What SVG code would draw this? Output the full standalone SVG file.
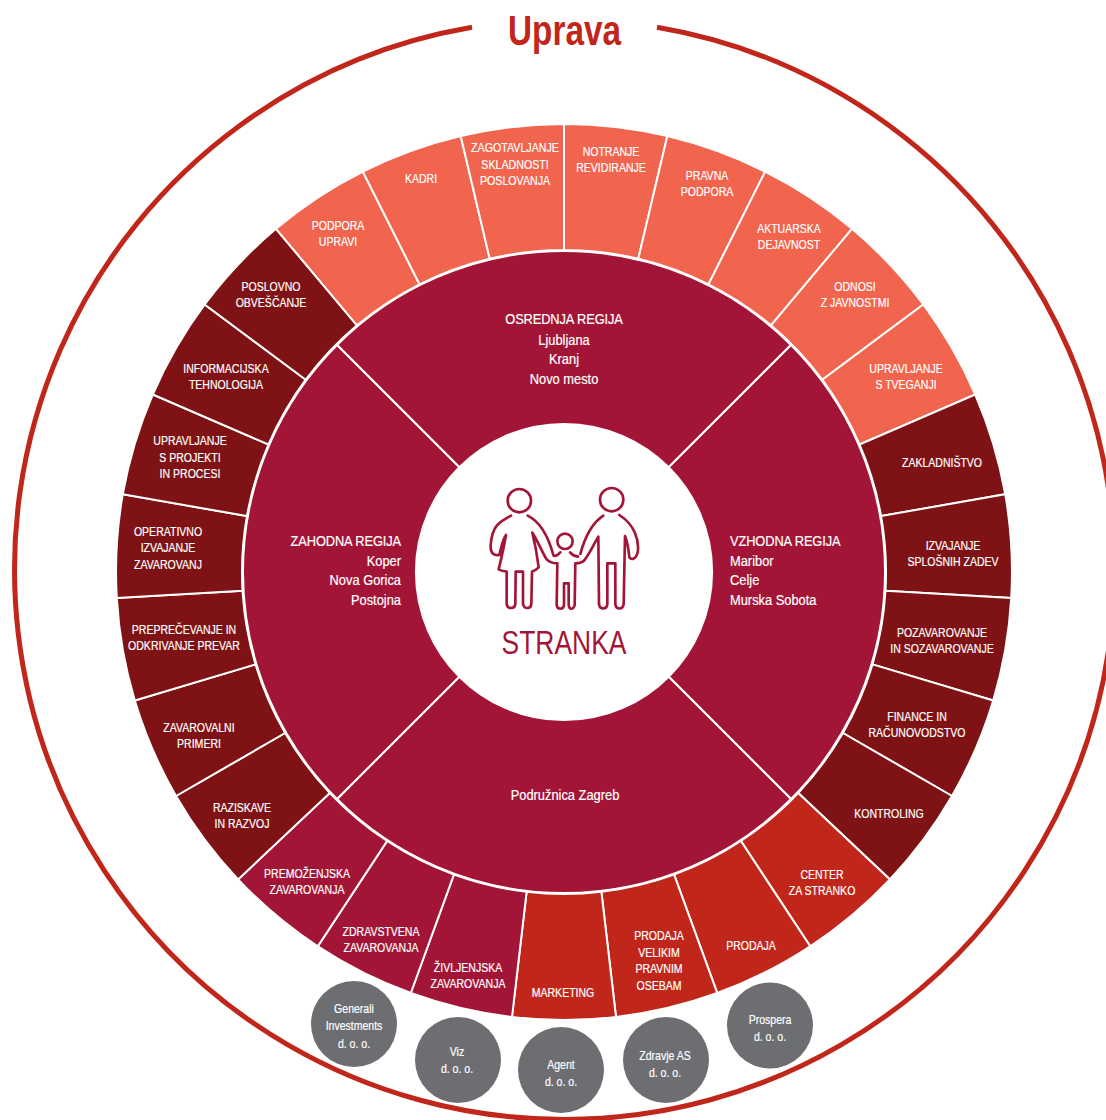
<svg xmlns="http://www.w3.org/2000/svg" width="1106" height="1120" viewBox="0 0 1106 1120">
<style>
text{font-family:"Liberation Sans",Arial,sans-serif;}
.t{font-size:13px;fill:#fff;stroke:#fff;stroke-width:.2;text-anchor:middle;}
.r{font-size:15.5px;fill:#fff;stroke:#fff;stroke-width:.2;text-anchor:middle;}
.c{letter-spacing:-.15px;}
.w{stroke:#fff;stroke-width:2;stroke-linejoin:miter;}
.or{fill:#F1644D;}.dk{fill:#7F1214;}.rd{fill:#C1261B;}.cr{fill:#A31537;}
.co{fill:#6D6E71;}
.ic{fill:none;stroke:#A31537;stroke-width:8;stroke-linecap:round;stroke-linejoin:round;}
</style>
<rect width="1106" height="1120" fill="#fff"/>
<g id="uprava">
<path d="M657 27.3A550 550 0 1 1 472 27.3" fill="none" stroke="#C1261B" stroke-width="5"/>
<text transform="translate(564.5 45) scale(.775 1)" style="font-size:43px;font-weight:bold;fill:#C1261B;text-anchor:middle">Uprava</text>
</g>
<g id="regions">
<g id="region-osrednja"><path class="w cr" d="M337 345A321 321 0 0 1 791 345L668.7 467.3A148 148 0 0 0 459.3 467.3Z"/>
<text class="r" transform="translate(564 324) scale(.83 1)"><tspan x="0" class="c">OSREDNJA REGIJA</tspan><tspan x="0" dy="21">Ljubljana</tspan><tspan x="0" dy="19.5">Kranj</tspan><tspan x="0" dy="19.5">Novo mesto</tspan></text></g>
<g id="region-vzhodna"><path class="w cr" d="M791 345A321 321 0 0 1 791 799L668.7 676.7A148 148 0 0 0 668.7 467.3Z"/>
<text class="r" style="text-anchor:start" transform="translate(730 546) scale(.83 1)"><tspan x="0" class="c">VZHODNA REGIJA</tspan><tspan x="0" dy="20">Maribor</tspan><tspan x="0" dy="19.5">Celje</tspan><tspan x="0" dy="19.5">Murska Sobota</tspan></text></g>
<g id="region-zagreb"><path class="w cr" d="M791 799A321 321 0 0 1 337 799L459.3 676.7A148 148 0 0 0 668.7 676.7Z"/>
<text class="r" transform="translate(565 800) scale(.83 1)">Podružnica Zagreb</text></g>
<g id="region-zahodna"><path class="w cr" d="M337 799A321 321 0 0 1 337 345L459.3 467.3A148 148 0 0 0 459.3 676.7Z"/>
<text class="r" style="text-anchor:end" transform="translate(401 546) scale(.83 1)"><tspan x="0" class="c">ZAHODNA REGIJA</tspan><tspan x="0" dy="20">Koper</tspan><tspan x="0" dy="19.5">Nova Gorica</tspan><tspan x="0" dy="19.5">Postojna</tspan></text></g>
</g>
<g id="stranka">
<circle cx="564" cy="572" r="148" fill="#fff"/>
<g transform="translate(400 450) scale(.33333)" class="ic">
<circle cx="358" cy="152" r="35"/><circle cx="635" cy="149" r="35"/><circle cx="495" cy="274" r="23"/>
<path d="M333 197C298 215 276 228 272 285C270 310 282 318 298 315C303 295 307 270 318 255C312 290 304 325 296 358C304 362 312 364 320 365L320 462C322 478 344 478 346 462L347 365L369 365L369 462C372 478 392 478 394 462L396 365C404 363 410 358 416 352C412 320 405 280 397 248C415 275 425 305 440 328C450 338 462 340 472 340L470 465C472 480 490 480 492 465L492 400L506 400L506 465C508 480 520 480 524 465L526 340C535 340 545 338 552 332C570 310 580 285 595 260L597 462C599 480 620 480 622 462L622 340L646 340L646 462C648 480 668 480 671 462L675 258C682 275 686 300 688 322C695 332 712 325 714 300C716 270 705 225 658 195"/>
<path d="M383 197C420 215 445 260 460 315"/>
<path d="M610 197C575 220 555 260 541 312"/>
<path d="M462 318C470 318 476 314 481 307"/>
<path d="M510 307C516 314 522 318 534 320"/>
</g>
<text transform="translate(564 654) scale(.79 1)" style="font-size:33.5px;fill:#A31537;text-anchor:middle">STRANKA</text>
</g>
<g id="segments">
<g id="seg-notranje"><path class="w or" d="M564 124A448 448 0 0 1 667.3 136.1L638.3 258.7A322 322 0 0 0 564 250Z"/><text class="t" transform="translate(611 156) scale(.81 1)"><tspan x="0">NOTRANJE</tspan><tspan x="0" dy="16.5">REVIDIRANJE</tspan></text></g>
<g id="seg-pravna"><path class="w or" d="M667.3 136.1A448 448 0 0 1 765.1 171.7L708.5 284.3A322 322 0 0 0 638.3 258.7Z"/><text class="t" transform="translate(707 180) scale(.81 1)"><tspan x="0">PRAVNA</tspan><tspan x="0" dy="16.5">PODPORA</tspan></text></g>
<g id="seg-aktuarska"><path class="w or" d="M765.1 171.7A448 448 0 0 1 852 228.8L771 325.3A322 322 0 0 0 708.5 284.3Z"/><text class="t" transform="translate(789 233) scale(.81 1)"><tspan x="0">AKTUARSKA</tspan><tspan x="0" dy="16.5">DEJAVNOST</tspan></text></g>
<g id="seg-odnosi"><path class="w or" d="M852 228.8A448 448 0 0 1 923.3 304.5L822.3 379.7A322 322 0 0 0 771 325.3Z"/><text class="t" transform="translate(855 291) scale(.81 1)"><tspan x="0">ODNOSI</tspan><tspan x="0" dy="16.5">Z JAVNOSTMI</tspan></text></g>
<g id="seg-tveganji"><path class="w or" d="M923.3 304.5A448 448 0 0 1 975.2 394.5L859.5 444.5A322 322 0 0 0 822.3 379.7Z"/><text class="t" transform="translate(906 373) scale(.81 1)"><tspan x="0">UPRAVLJANJE</tspan><tspan x="0" dy="16.5">S TVEGANJI</tspan></text></g>
<g id="seg-zakladnistvo"><path class="w dk" d="M975.2 394.5A448 448 0 0 1 1005.2 494.2L881.1 516.1A322 322 0 0 0 859.5 444.5Z"/><text class="t" transform="translate(942 467) scale(.81 1)">ZAKLADNIŠTVO</text></g>
<g id="seg-izvajanje"><path class="w dk" d="M1005.2 494.2A448 448 0 0 1 1011.2 598L885.5 590.7A322 322 0 0 0 881.1 516.1Z"/><text class="t" transform="translate(953 550) scale(.81 1)"><tspan x="0">IZVAJANJE</tspan><tspan x="0" dy="16.5">SPLOŠNIH ZADEV</tspan></text></g>
<g id="seg-pozavarovanje"><path class="w dk" d="M1011.2 598A448 448 0 0 1 993.2 700.5L872.5 664.4A322 322 0 0 0 885.5 590.7Z"/><text class="t" transform="translate(942 637) scale(.81 1)"><tspan x="0">POZAVAROVANJE</tspan><tspan x="0" dy="16.5">IN SOZAVAROVANJE</tspan></text></g>
<g id="seg-finance"><path class="w dk" d="M993.2 700.5A448 448 0 0 1 952 796L842.9 733A322 322 0 0 0 872.5 664.4Z"/><text class="t" transform="translate(917 721) scale(.81 1)"><tspan x="0">FINANCE IN</tspan><tspan x="0" dy="16.5">RAČUNOVODSTVO</tspan></text></g>
<g id="seg-kontroling"><path class="w dk" d="M952 796A448 448 0 0 1 889.9 879.4L798.2 793A322 322 0 0 0 842.9 733Z"/><text class="t" transform="translate(889 818) scale(.81 1)">KONTROLING</text></g>
<g id="seg-center"><path class="w rd" d="M889.9 879.4A448 448 0 0 1 810.2 946.3L740.9 841A322 322 0 0 0 798.2 793Z"/><text class="t" transform="translate(822 879) scale(.81 1)"><tspan x="0">CENTER</tspan><tspan x="0" dy="16.5">ZA STRANKO</tspan></text></g>
<g id="seg-prodaja"><path class="w rd" d="M810.2 946.3A448 448 0 0 1 717.2 993L674.1 874.6A322 322 0 0 0 740.9 841Z"/><text class="t" transform="translate(751 950) scale(.81 1)">PRODAJA</text></g>
<g id="seg-prodaja-velikim"><path class="w rd" d="M717.2 993A448 448 0 0 1 616 1017L601.4 891.8A322 322 0 0 0 674.1 874.6Z"/><text class="t" transform="translate(659 940) scale(.81 1)"><tspan x="0">PRODAJA</tspan><tspan x="0" dy="16.7">VELIKIM</tspan><tspan x="0" dy="16.7">PRAVNIM</tspan><tspan x="0" dy="16.7">OSEBAM</tspan></text></g>
<g id="seg-marketing"><path class="w rd" d="M616 1017A448 448 0 0 1 512 1017L526.6 891.8A322 322 0 0 0 601.4 891.8Z"/><text class="t" transform="translate(563 997) scale(.81 1)">MARKETING</text></g>
<g id="seg-zivljenjska"><path class="w cr" d="M512 1017A448 448 0 0 1 410.8 993L453.9 874.6A322 322 0 0 0 526.6 891.8Z"/><text class="t" transform="translate(468 972) scale(.81 1)"><tspan x="0">ŽIVLJENJSKA</tspan><tspan x="0" dy="16.5">ZAVAROVANJA</tspan></text></g>
<g id="seg-zdravstvena"><path class="w cr" d="M410.8 993A448 448 0 0 1 317.8 946.3L387.1 841A322 322 0 0 0 453.9 874.6Z"/><text class="t" transform="translate(381 936) scale(.81 1)"><tspan x="0">ZDRAVSTVENA</tspan><tspan x="0" dy="16.5">ZAVAROVANJA</tspan></text></g>
<g id="seg-premozenjska"><path class="w cr" d="M317.8 946.3A448 448 0 0 1 238.1 879.4L329.8 793A322 322 0 0 0 387.1 841Z"/><text class="t" transform="translate(307 878) scale(.81 1)"><tspan x="0">PREMOŽENJSKA</tspan><tspan x="0" dy="16.5">ZAVAROVANJA</tspan></text></g>
<g id="seg-raziskave"><path class="w dk" d="M238.1 879.4A448 448 0 0 1 176 796L285.1 733A322 322 0 0 0 329.8 793Z"/><text class="t" transform="translate(242 812) scale(.81 1)"><tspan x="0">RAZISKAVE</tspan><tspan x="0" dy="16.5">IN RAZVOJ</tspan></text></g>
<g id="seg-primeri"><path class="w dk" d="M176 796A448 448 0 0 1 134.8 700.5L255.5 664.4A322 322 0 0 0 285.1 733Z"/><text class="t" transform="translate(199 732) scale(.81 1)"><tspan x="0">ZAVAROVALNI</tspan><tspan x="0" dy="16.5">PRIMERI</tspan></text></g>
<g id="seg-prevare"><path class="w dk" d="M134.8 700.5A448 448 0 0 1 116.8 598L242.5 590.7A322 322 0 0 0 255.5 664.4Z"/><text class="t" transform="translate(184 634) scale(.81 1)"><tspan x="0">PREPREČEVANJE IN</tspan><tspan x="0" dy="16.5">ODKRIVANJE PREVAR</tspan></text></g>
<g id="seg-operativno"><path class="w dk" d="M116.8 598A448 448 0 0 1 122.8 494.2L246.9 516.1A322 322 0 0 0 242.5 590.7Z"/><text class="t" transform="translate(168 536) scale(.81 1)"><tspan x="0">OPERATIVNO</tspan><tspan x="0" dy="16.5">IZVAJANJE</tspan><tspan x="0" dy="16.5">ZAVAROVANJ</tspan></text></g>
<g id="seg-projekti"><path class="w dk" d="M122.8 494.2A448 448 0 0 1 152.8 394.5L268.5 444.5A322 322 0 0 0 246.9 516.1Z"/><text class="t" transform="translate(190 445) scale(.81 1)"><tspan x="0">UPRAVLJANJE</tspan><tspan x="0" dy="16.7">S PROJEKTI</tspan><tspan x="0" dy="16.7">IN PROCESI</tspan></text></g>
<g id="seg-informacijska"><path class="w dk" d="M152.8 394.5A448 448 0 0 1 204.7 304.5L305.7 379.7A322 322 0 0 0 268.5 444.5Z"/><text class="t" transform="translate(226 373) scale(.81 1)"><tspan x="0">INFORMACIJSKA</tspan><tspan x="0" dy="16.5">TEHNOLOGIJA</tspan></text></g>
<g id="seg-poslovno"><path class="w dk" d="M204.7 304.5A448 448 0 0 1 276 228.8L357 325.3A322 322 0 0 0 305.7 379.7Z"/><text class="t" transform="translate(271 291) scale(.81 1)"><tspan x="0">POSLOVNO</tspan><tspan x="0" dy="16.5">OBVEŠČANJE</tspan></text></g>
<g id="seg-podpora"><path class="w or" d="M276 228.8A448 448 0 0 1 362.9 171.7L419.5 284.3A322 322 0 0 0 357 325.3Z"/><text class="t" transform="translate(338 230) scale(.81 1)"><tspan x="0">PODPORA</tspan><tspan x="0" dy="16.5">UPRAVI</tspan></text></g>
<g id="seg-kadri"><path class="w or" d="M362.9 171.7A448 448 0 0 1 460.7 136.1L489.7 258.7A322 322 0 0 0 419.5 284.3Z"/><text class="t" transform="translate(421 183) scale(.81 1)">KADRI</text></g>
<g id="seg-zagotavljanje"><path class="w or" d="M460.7 136.1A448 448 0 0 1 564 124L564 250A322 322 0 0 0 489.7 258.7Z"/><text class="t" transform="translate(515 152) scale(.82 1)"><tspan x="0">ZAGOTAVLJANJE</tspan><tspan x="0" dy="16.7">SKLADNOSTI</tspan><tspan x="0" dy="16.7">POSLOVANJA</tspan></text></g>
</g>
<g id="companies">
<g id="co-generali"><circle class="co" cx="354" cy="1024" r="43"/><text class="t" transform="translate(354 1013) scale(.81 1)"><tspan x="0">Generali</tspan><tspan x="0" dy="17.3">Investments</tspan><tspan x="0" dy="17.3">d. o. o.</tspan></text></g>
<g id="co-viz"><circle class="co" cx="458" cy="1060" r="43"/><text class="t" transform="translate(457 1056) scale(.81 1)"><tspan x="0">Viz</tspan><tspan x="0" dy="17.3">d. o. o.</tspan></text></g>
<g id="co-agent"><circle class="co" cx="561" cy="1070" r="43"/><text class="t" transform="translate(561 1069) scale(.81 1)"><tspan x="0">Agent</tspan><tspan x="0" dy="17.3">d. o. o.</tspan></text></g>
<g id="co-zdravje"><circle class="co" cx="666" cy="1060" r="43"/><text class="t" transform="translate(665 1060) scale(.81 1)"><tspan x="0">Zdravje AS</tspan><tspan x="0" dy="17.3">d. o. o.</tspan></text></g>
<g id="co-prospera"><circle class="co" cx="770" cy="1025.5" r="43"/><text class="t" transform="translate(770 1024) scale(.81 1)"><tspan x="0">Prospera</tspan><tspan x="0" dy="17.3">d. o. o.</tspan></text></g>
</g>
</svg>
